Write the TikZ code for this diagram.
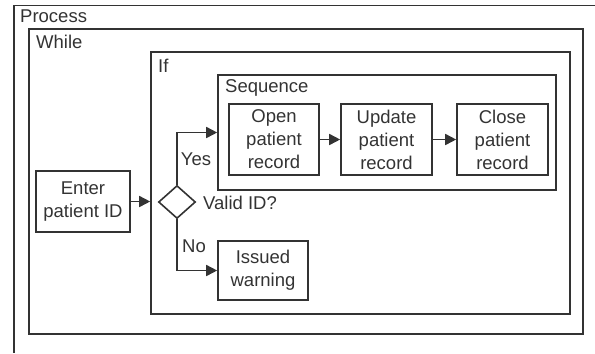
\documentclass[tikz,border=0pt]{standalone}
\usepackage{fontspec}
\setmainfont{Liberation Sans}
\usetikzlibrary{shapes.geometric,arrows.meta}
\definecolor{ink}{HTML}{333333}
\begin{document}
\begin{tikzpicture}[x=1bp,y=-1bp,
  every node/.style={font=\fontsize{18.5bp}{23bp}\selectfont, text=ink},
  frame/.style={draw=ink, line width=1.6bp, rectangle, inner sep=0pt},
  box/.style={draw=ink, line width=1.6bp, rectangle, inner sep=0pt, align=center},
  lbl/.style={anchor=west, inner sep=0pt},
  arr/.style={draw=ink, line width=1.6bp, -{Triangle[length=11bp,width=11bp]}},
  conn/.style={draw=ink, line width=1.6bp}]
\useasboundingbox (0,0) rectangle (595,353);
% Process (cut off at right and bottom)
\coordinate (ptl) at (14,5.5);
\draw[conn] (ptl -| 595,0) -- (ptl) -- (ptl |- 0,353);
\node[lbl] (plab) at (20,16) {Process};
% While
\node[frame, minimum width=554bp, minimum height=305bp] (while) at (306,181.5) {};
\node[lbl] (wlab) at (36,42) {While};
% If
\node[frame, minimum width=419bp, minimum height=262bp] (if) at (360.5,183) {};
\node[lbl] (iflab) at (158,66) {If};
% Sequence
\node[frame, minimum width=338bp, minimum height=115bp] (seq) at (387,132.5) {};
\node[lbl] (seqlab) at (225,88) {Sequence};
% Steps
\node[box, minimum width=90bp, minimum height=71bp] (open) at (274,139.5) {Open\\patient\\record};
\node[box, minimum width=91bp, minimum height=71bp] (update) at (386.5,139.5) {Update\\patient\\record};
\node[box, minimum width=91bp, minimum height=71bp] (close) at (502.5,139.5) {Close\\patient\\record};
\node[box, minimum width=94bp, minimum height=61bp] (enter) at (83,201.5) {Enter\\patient ID};
\node[draw=ink, line width=1.6bp, diamond, minimum width=37bp, minimum height=33bp, inner sep=0pt] (dia) at (177,202) {};
\node[box, minimum width=90bp, minimum height=59bp] (warn) at (263,270.5) {Issued\\warning};
% Labels
\node (yes) at (196,159) {Yes};
\node (no) at (194,246) {No};
\node[lbl] (valid) at (203,203) {Valid ID?};
% Connectors
\draw[arr] (enter.east) -- (enter.east -| if.west);
\draw[arr] (dia.north) |- (seq.west);
\draw[arr] (dia.south) |- (warn.west);
\draw[arr] (open.east) -- (update.west);
\draw[arr] (update.east) -- (close.west);
\end{tikzpicture}
\end{document}
